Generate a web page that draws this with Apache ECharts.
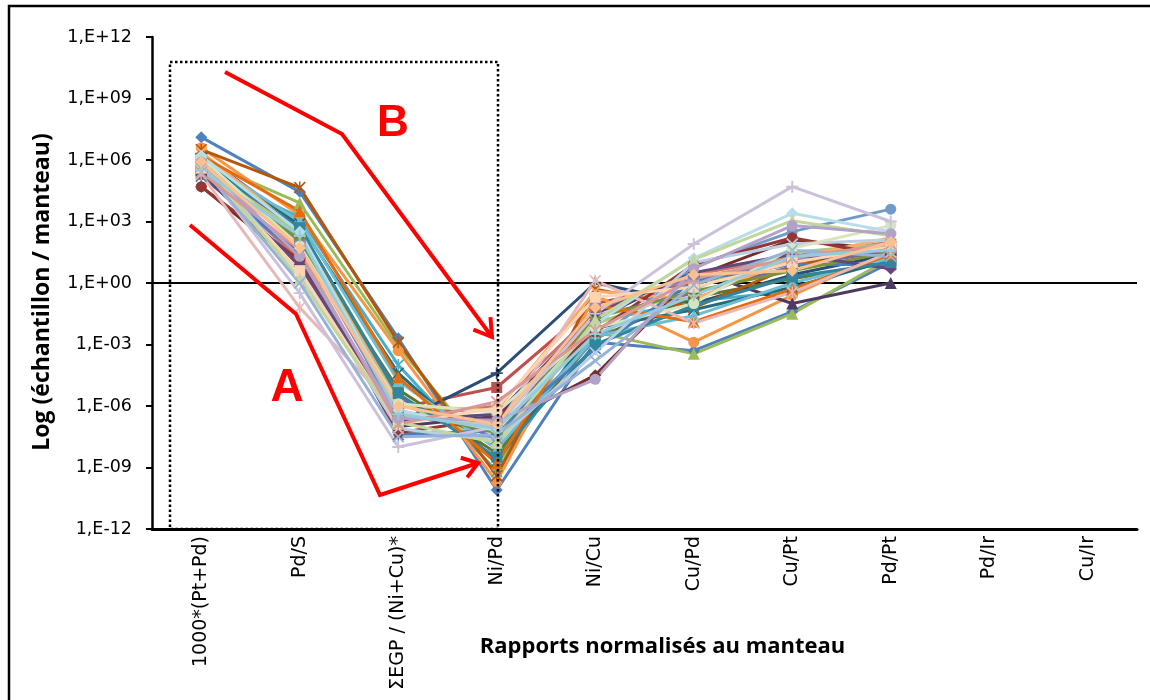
<!DOCTYPE html>
<html>
<head>
<meta charset="utf-8">
<script src="https://cdn.jsdelivr.net/npm/echarts@6/dist/echarts.min.js"></script>
<style>
  html, body { margin: 0; padding: 0; background: #fff; }
  #chart { width: 1150px; height: 700px; }
</style>
</head>
<body>
<div id="chart"></div>
<script>
// Ratios normalised to the mantle, one array per sample (order follows the categories)
const categories = ['1000*(Pt+Pd)', 'Pd/S', 'ΣEGP / (Ni+Cu)*', 'Ni/Pd', 'Ni/Cu', 'Cu/Pd', 'Cu/Pt', 'Pd/Pt', 'Pd/Ir', 'Cu/Ir'];
const yTicks = [1e-12, 1e-9, 1e-6, 1e-3, 1, 1e3, 1e6, 1e9, 1e12];

const ech01 = [1.3e7, 2.8e4, 2e-3, 8e-11, 1.3e-3, 5e-4, 4e-2, 10];
const ech02 = [4e5, 100, 8e-7, 8e-6, 0.1, 1, 10, 32];
const ech03 = [1e6, 8e3, 8e-4, 1.3e-9, 4e-3, 3.5e-4, 3.2e-2, 16];
const ech04 = [6.3e5, 400, 2.5e-6, 2.5e-8, 2.5e-2, 0.32, 6.3, 40];
const ech05 = [3.2e5, 1.6e3, 1e-4, 6.3e-10, 1.3e-2, 0.13, 0.4, 20];
const ech06 = [4e6, 2e3, 5e-4, 2e-10, 0.25, 1.3e-3, 0.25, 40];
const ech07 = [2e6, 630, 1.6e-7, 4e-5, 1, 0.1, 2.5, 25];
const ech08 = [5e4, 6.3, 3.2e-7, 1e-7, 3.2e-5, 2, 130, 40];
const ech09 = [2e5, 160, 6.3e-6, 5e-9, 2e-3, 0.2, 1.6, 10];
const ech10 = [3.2e5, 32, 1e-7, 3.2e-7, 1.6e-2, 4, 0.1, 1];
const ech11 = [8e5, 800, 4e-5, 2e-9, 6.3e-3, 5e-2, 0.63, 13];
const ech12 = [3.2e6, 4.5e4, 1.3e-3, 4e-10, 0.5, 6.3e-2, 6.3, 63];
const ech13 = [8e5, 10, 6.3e-8, 3.2e-8, 1.6e-3, 6.3, 320, 4e3];
const ech14 = [2.5e5, 16, 2.5e-7, 1e-6, 4e-2, 2.5, 20, 100];
const ech15 = [5e5, 250, 1.6e-6, 1.3e-8, 1e-2, 0.5, 32, 80];
const ech16 = [4e5, 80, 4e-7, 1.6e-7, 6.3e-2, 1.6, 13, 50];
const ech17 = [1.3e6, 1e3, 1.6e-5, 8e-9, 2.5e-3, 2.5e-2, 1, 16];
const ech18 = [2.5e6, 320, 1e-6, 6.3e-7, 0.4, 0.16, 16, 160];
const ech19 = [1.6e5, 25, 4e-8, 6.3e-8, 6.3e-4, 1.3, 8, 8];
const ech20 = [5e4, 13, 5e-8, 2.5e-7, 4e-3, 8, 160, 20];
const ech21 = [3.2e5, 130, 6.3e-7, 5e-8, 2e-2, 0.4, 4, 32];
const ech22 = [2e5, 8, 2e-7, 4e-7, 3.2e-2, 3.2, 25, 5];
const ech23 = [6.3e5, 500, 4e-6, 3.2e-9, 1e-3, 8e-2, 2, 10];
const ech24 = [1.6e6, 3.2e3, 2.5e-5, 1.6e-9, 8e-2, 1.3e-2, 0.5, 25];
const ech25 = [1e6, 3.2, 8e-8, 2e-8, 4e-4, 10, 80, 130];
const ech26 = [2e5, 6.3e-2, 5e-7, 1e-7, 1.3, 1.1e-2, 0.35, 32];
const ech27 = [1.3e6, 63, 1.3e-6, 5e-7, 6.3e-3, 0.1, 50, 630];
const ech28 = [6.3e5, 0.32, 1e-8, 1e-7, 3.2e-2, 80, 5e4, 1e3];
const ech29 = [1.6e6, 320, 6.3e-7, 6.3e-8, 1e-2, 16, 2.5e3, 320];
const ech30 = [4e5, 4, 1.3e-7, 8e-7, 0.2, 0.63, 10, 63];
const ech31 = [1e6, 1.6, 1.6e-7, 1.6e-8, 1.6e-2, 14, 1.1e3, 200];
const ech32 = [5e5, 1, 3.2e-8, 4e-8, 1.6e-4, 0.8, 40, 20];
const ech33 = [2.5e5, 40, 1.3e-7, 1.6e-6, 5e-3, 1.6, 16, 80];
const ech34 = [8e5, 20, 2.5e-7, 2e-7, 2e-5, 5, 630, 250];
const ech35 = [3.2e5, 200, 4e-7, 8e-8, 3.2e-3, 0.25, 20, 40];
const ech36 = [8e5, 50, 1e-6, 1.3e-7, 6.3e-2, 2.5, 4, 100];

const samples = [ech01, ech02, ech03, ech04, ech05, ech06, ech07, ech08, ech09, ech10, ech11, ech12,
  ech13, ech14, ech15, ech16, ech17, ech18, ech19, ech20, ech21, ech22, ech23, ech24,
  ech25, ech26, ech27, ech28, ech29, ech30, ech31, ech32, ech33, ech34, ech35, ech36];

// Office palette: base, dark, light, medium and pale variants
const palette = [
  '#4F81BD', '#C0504D', '#9BBB59', '#8064A2', '#4BACC6', '#F79646',
  '#2C4D75', '#772C2A', '#5F7530', '#4D3B62', '#276A7C', '#B65708',
  '#729ACA', '#CD7371', '#AFC97A', '#9983B5', '#6FBDD1', '#F9AB6B',
  '#4A7EBB', '#943634', '#77933C', '#604A7B', '#31859C', '#E46C0A',
  '#B9CDE5', '#E6B9B8', '#D7E4BD', '#CCC1DA', '#B7DEE8', '#FCD5B5',
  '#C3D69B', '#95B3D7', '#D99694', '#B3A2C7', '#93CDDD', '#FAC090'
];

const SYM_X = 'path://M1,0L5,4L9,0L10,1L6,5L10,9L9,10L5,6L1,10L0,9L4,5L0,1Z';
const SYM_PLUS = 'path://M4.2,0H5.8V4.2H10V5.8H5.8V10H4.2V5.8H0V4.2H4.2Z';
const SYM_STAR = 'path://M1,0L5,4L9,0L10,1L6,5L10,9L9,10L5,6L1,10L0,9L4,5L0,1ZM4.4,0H5.6V10H4.4Z';
const markers = ['diamond', 'rect', 'triangle', SYM_X, SYM_STAR, 'circle', SYM_PLUS];

const chart = echarts.init(document.getElementById('chart'), null, { renderer: 'canvas' });

function expLabel(v) {
  const e = Math.round(Math.log10(v));
  return '1,E' + (e < 0 ? '-' : '+') + String(Math.abs(e)).padStart(2, '0');
}

const series = samples.map((vals, i) => {
  const sym = markers[i % markers.length];
  const s = {
    name: 'Éch. ' + (i + 1),
    type: 'line',
    data: vals,
    symbol: sym,
    symbolSize: sym === 'circle' || sym === 'rect' ? 11 : 12,
    showAllSymbol: true,
    color: palette[i % palette.length],
    lineStyle: { width: 3 },
    itemStyle: { borderWidth: 0 },
    emphasis: { disabled: true },
    animation: false,
    z: 2
  };
  if (i === 0) {
    s.markLine = {
      silent: true,
      symbol: ['none', 'none'],
      label: { show: false },
      lineStyle: { color: '#000', width: 2, type: 'solid' },
      data: [{ yAxis: 1 }],
      z: 1
    };
  }
  return s;
});

// Open arrowhead at "tip", pointing away from "from"
function arrowHead(from, tip, len, angDeg) {
  const dx = from[0] - tip[0], dy = from[1] - tip[1];
  const d = Math.hypot(dx, dy);
  const ux = dx / d, uy = dy / d;
  const a = angDeg * Math.PI / 180;
  const rot = (t) => [tip[0] + len * (ux * Math.cos(t) - uy * Math.sin(t)),
                      tip[1] + len * (ux * Math.sin(t) + uy * Math.cos(t))];
  return [rot(a), tip, rot(-a)];
}

const pathA = [[190, 225], [296, 314], [380, 495], [478, 463]];
const pathB = [[225, 72], [342, 134], [492, 337]];
const redLine = { stroke: '#FF0000', lineWidth: 4, fill: null, lineJoin: 'miter' };

chart.setOption({
  backgroundColor: '#fff',
  animation: false,
  grid: { left: 152, right: 13, top: 37, bottom: 171, containLabel: false, outerBoundsMode: 'none' },
  xAxis: {
    type: 'category',
    data: categories,
    boundaryGap: true,
    name: 'Rapports normalisés au manteau',
    nameLocation: 'middle',
    nameGap: 107,
    nameMoveOverlap: false,
    nameTextStyle: { fontFamily: 'Open Sans', fontWeight: 'bold', fontSize: 22, color: '#000',
                     padding: [0, 0, 0, 36] },
    axisLine: { show: true, lineStyle: { color: '#000', width: 3 } },
    axisTick: { show: false },
    axisLabel: {
      rotate: 90, interval: 0, margin: 7,
      fontFamily: 'DejaVu Sans', fontSize: 19, color: '#000'
    },
    splitLine: { show: false }
  },
  yAxis: {
    type: 'log',
    logBase: 10,
    min: 1e-12,
    max: 1e12,
    interval: 3,
    name: 'Log (échantillon / manteau)',
    nameLocation: 'middle',
    nameRotate: 90,
    nameGap: 98,
    nameMoveOverlap: false,
    nameTextStyle: { fontFamily: 'Open Sans', fontWeight: 'bold', fontSize: 23, color: '#000',
                     padding: [0, 18, 0, 0] },
    axisLine: { show: true, lineStyle: { color: '#000', width: 2.5 } },
    axisTick: { show: true, inside: false, length: 6, lineStyle: { color: '#000', width: 2 } },
    axisLabel: {
      margin: 20,
      fontFamily: 'DejaVu Sans', fontSize: 17.5, color: '#000',
      formatter: expLabel
    },
    splitLine: { show: false },
    minorTick: { show: false }
  },
  series: series,
  graphic: [
    // outer frame of the figure
    { type: 'rect', silent: true, z: 100,
      shape: { x: 9, y: 6, width: 1400, height: 1000 },
      style: { stroke: '#000', lineWidth: 2.5, fill: null } },
    // dotted window around the first four ratios
    { type: 'rect', silent: true, z: 100,
      shape: { x: 170, y: 62, width: 328, height: 467 },
      style: { stroke: '#000', lineWidth: 2.5, fill: null, lineDash: [2.5, 2.5] } },
    // trend A
    { type: 'polyline', silent: true, z: 101, shape: { points: pathA }, style: redLine },
    { type: 'polyline', silent: true, z: 101,
      shape: { points: arrowHead(pathA[2], pathA[3], 18, 35) }, style: redLine },
    // trend B
    { type: 'polyline', silent: true, z: 101, shape: { points: pathB }, style: redLine },
    { type: 'polyline', silent: true, z: 101,
      shape: { points: arrowHead(pathB[1], pathB[2], 20, 32) }, style: redLine },
    { type: 'text', silent: true, z: 101, x: 287, y: 388,
      style: { text: 'A', fill: '#FF0000', font: 'bold 46px "Liberation Sans", Arial, sans-serif',
               align: 'center', verticalAlign: 'middle' } },
    { type: 'text', silent: true, z: 101, x: 393, y: 124,
      style: { text: 'B', fill: '#FF0000', font: 'bold 44px "Liberation Sans", Arial, sans-serif',
               align: 'center', verticalAlign: 'middle' } }
  ]
});
</script>
</body>
</html>
